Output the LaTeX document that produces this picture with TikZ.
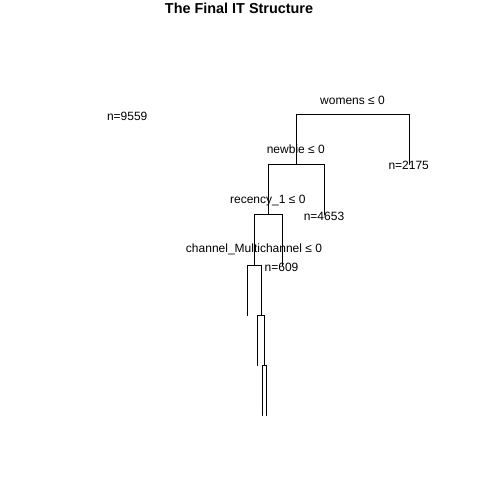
\documentclass[tikz,border=0pt]{standalone}
\usepackage{fontspec}
\setmainfont{Liberation Sans}
\begin{document}
\begin{tikzpicture}[x=1pt,y=-1pt,
  edge/.style={draw=black,line width=1pt,line cap=round},
  lab/.style={inner sep=0pt,anchor=base,font=\fontsize{12}{14}\selectfont},
  ttl/.style={inner sep=0pt,anchor=base,font=\fontsize{14.4}{16}\selectfont\bfseries}]
\useasboundingbox (0,0) rectangle (480,480);
\fill[white] (0,0) rectangle (480,480);
% title
\node[ttl] (title) at (239,13.5) {The Final IT Structure};
% tree points
\coordinate (w) at (353,114.5);
\coordinate (nb) at (296.5,164.5);
\coordinate (l2175) at (409.5,164.5);
\coordinate (rc) at (268.5,214.5);
\coordinate (l4653) at (324.5,214.5);
\coordinate (ch) at (254.5,265.5);
\coordinate (l609) at (282.5,265.5);
\coordinate (la) at (247.5,315.5);
\coordinate (n5) at (261.5,315.5);
\coordinate (lb) at (257.5,365.5);
\coordinate (n6) at (264.5,365.5);
\coordinate (lc) at (262.5,415.5);
\coordinate (ld) at (266.5,415.5);
% edges
\draw[edge] (nb) |- (w) -| (l2175);
\draw[edge] (rc) |- (nb) -| (l4653);
\draw[edge] (ch) |- (rc) -| (l609);
\draw[edge] (la) |- (ch) -| (n5);
\draw[edge] (lb) |- (n5) -| (n6);
\draw[edge] (lc) |- (n6) -| (ld);
% split labels
\node[lab] (sw) at (352.5,104.3) {womens ≤ 0};
\node[lab] (snb) at (295.8,153.6) {newbie ≤ 0};
\node[lab] (src) at (267.8,203.3) {recency\_1 ≤ 0};
\node[lab] (sch) at (254,252.6) {channel\_Multichannel ≤ 0};
% leaf labels
\node[lab] (root) at (127.2,120.3) {n=9559};
\node[lab] (t2175) at (408.7,169.4) {n=2175};
\node[lab] (t4653) at (324,220.3) {n=4653};
\node[lab] (t609) at (281.5,271) {n=609};
\end{tikzpicture}
\end{document}
